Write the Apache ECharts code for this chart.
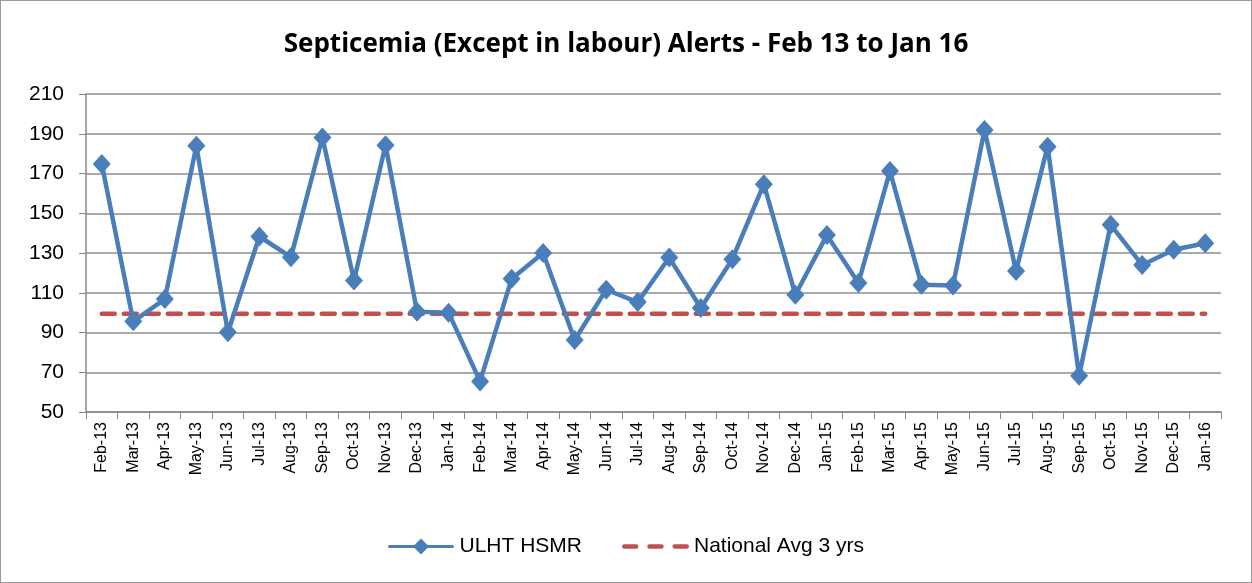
<!DOCTYPE html>
<html><head><meta charset="utf-8">
<script src="https://cdn.jsdelivr.net/npm/echarts@6/dist/echarts.min.js"></script>
<style>
html,body{margin:0;padding:0;background:#fff;}
#c{width:1250px;height:581px;border:1px solid #9a9a9a;}
</style></head>
<body><div id="c"></div>
<script>
const categories = ['Feb-13','Mar-13','Apr-13','May-13','Jun-13','Jul-13','Aug-13','Sep-13','Oct-13','Nov-13','Dec-13','Jan-14','Feb-14','Mar-14','Apr-14','May-14','Jun-14','Jul-14','Aug-14','Sep-14','Oct-14','Nov-14','Dec-14','Jan-15','Feb-15','Mar-15','Apr-15','May-15','Jun-15','Jul-15','Aug-15','Sep-15','Oct-15','Nov-15','Dec-15','Jan-16'];
const ulhtHsmr = [174.8,95.6,106.8,183.9,90.1,138.3,127.9,188.1,116.2,184.2,100.5,100,65.4,117,130,86.2,111.5,105.3,127.7,102.3,126.9,164.6,109,139,114.9,171.2,114,113.7,191.9,121,183.5,68.3,144.2,124,131.6,134.9];
const nationalAvg = categories.map(() => 99.4);
const yTicks = {min:50, max:210, interval:20};

const chart = echarts.init(document.getElementById('c'));
chart.setOption({
  animation:false,
  title:{text:'Septicemia (Except in labour) Alerts - Feb 13 to Jan 16',left:'center',top:26,
    textStyle:{fontFamily:'Open Sans',fontWeight:'bold',fontSize:26,color:'#000'}},
  grid:{left:85,right:30,top:93,bottom:170,containLabel:false},
  legend:{top:530,left:'center',itemWidth:67,itemHeight:16,itemGap:40,
    textStyle:{fontFamily:'Liberation Sans',fontSize:21,color:'#000'},
    data:[
      {name:'ULHT HSMR',icon:'path://M2,6.5L27,6.5L33.5,0L40,6.5L65,6.5A1.5,1.5 0 0 1 65,9.5L40,9.5L33.5,16L27,9.5L2,9.5A1.5,1.5 0 0 1 2,6.5Z'},
      {name:'National Avg 3 yrs',icon:'path://M2,6L13,6A2,2 0 0 1 13,10L2,10A2,2 0 0 1 2,6ZM25,6L36,6A2,2 0 0 1 36,10L25,10A2,2 0 0 1 25,6ZM48,6L59,6A2,2 0 0 1 59,10L48,10A2,2 0 0 1 48,6Z'}
    ]},
  xAxis:{type:'category',data:categories,boundaryGap:true,
    axisLine:{lineStyle:{color:'#888',width:1.5}},
    axisTick:{show:true,length:7,lineStyle:{color:'#888'}},
    axisLabel:{rotate:90,fontFamily:'Liberation Sans',fontSize:16,color:'#000',interval:0,margin:10}},
  yAxis:{type:'value',min:yTicks.min,max:yTicks.max,interval:yTicks.interval,
    axisLine:{show:true,lineStyle:{color:'#888',width:1.5}},
    axisTick:{show:true,length:7,lineStyle:{color:'#888'}},
    splitLine:{lineStyle:{color:'#8c8c8c',width:1.5}},
    axisLabel:{fontFamily:'Liberation Sans',fontSize:21,color:'#000',margin:22}},
  series:[
    {name:'ULHT HSMR',type:'line',data:ulhtHsmr,symbol:'diamond',symbolSize:[18,20],
      lineStyle:{color:'#4a7ebb',width:4.5},itemStyle:{color:'#4a7ebb'},z:3},
    {name:'National Avg 3 yrs',type:'line',data:nationalAvg,symbol:'none',
      lineStyle:{color:'#c0504d',width:4.5,type:[13,9],cap:'round'},itemStyle:{color:'#c0504d'},z:2}
  ]
});
</script></body></html>
